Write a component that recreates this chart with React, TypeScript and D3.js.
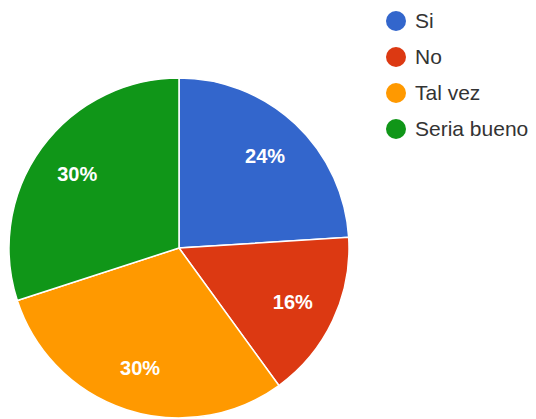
import { useEffect, useRef } from 'react';
import * as d3 from 'd3';

const categories = ['Si', 'No', 'Tal vez', 'Seria bueno'];
const values = [24, 16, 30, 30];
const colors = ['#3366cc', '#dc3912', '#ff9900', '#109618'];

export default function App() {
  const svgRef = useRef<SVGSVGElement>(null);

  useEffect(() => {
    if (!svgRef.current) return;
    const width = 536;
    const height = 419;
    const cx = 179;
    const cy = 248;
    const radius = 170;

    const svg = d3.select(svgRef.current);
    svg.selectAll('*').remove();
    svg.attr('width', width).attr('height', height).attr('viewBox', `0 0 ${width} ${height}`);

    svg.append('rect').attr('width', width).attr('height', height).attr('fill', '#ffffff');

    const pie = d3.pie<number>().sort(null).value(d => d);
    const arcs = pie(values);
    const arc = d3.arc<d3.PieArcDatum<number>>().innerRadius(0).outerRadius(radius);
    const labelArc = d3.arc<d3.PieArcDatum<number>>().innerRadius(radius * 0.74).outerRadius(radius * 0.74);
    const total = d3.sum(values);

    const g = svg.append('g').attr('transform', `translate(${cx},${cy})`);

    g.selectAll('path')
      .data(arcs)
      .enter()
      .append('path')
      .attr('d', arc as any)
      .attr('fill', (_, i) => colors[i])
      .attr('stroke', '#ffffff')
      .attr('stroke-width', 1.5);

    g.selectAll('text')
      .data(arcs)
      .enter()
      .append('text')
      .attr('transform', d => `translate(${labelArc.centroid(d)})`)
      .attr('text-anchor', 'middle')
      .attr('dy', '0.35em')
      .style('font-family', 'Arial, "Liberation Sans", sans-serif')
      .style('font-size', '20px')
      .style('font-weight', 'bold')
      .style('fill', '#ffffff')
      .text(d => `${Math.round((d.data / total) * 100)}%`);

    // Legend
    const legend = svg.append('g').attr('transform', 'translate(396,21)');
    const items = legend.selectAll('g')
      .data(categories)
      .enter()
      .append('g')
      .attr('transform', (_, i) => `translate(0,${i * 36})`);

    items.append('circle')
      .attr('r', 10)
      .attr('fill', (_, i) => colors[i]);

    items.append('text')
      .attr('x', 19)
      .attr('dy', '0.35em')
      .style('font-family', 'Arial, "Liberation Sans", sans-serif')
      .style('font-size', '21px')
      .style('fill', '#333333')
      .text(d => d);
  }, []);

  return (
    <svg ref={svgRef} style={{ position: 'absolute', left: 0, top: 0 }} />
  );
}
